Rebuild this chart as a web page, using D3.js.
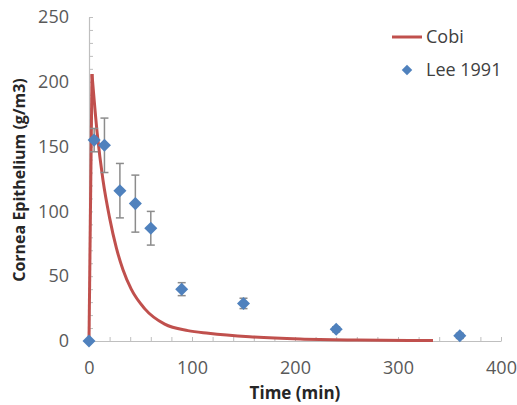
<!DOCTYPE html>
<html>
<head>
<meta charset="utf-8">
<script src="https://cdn.jsdelivr.net/npm/d3@7"></script>
<style>
  body { margin: 0; background: #fff; }
  svg text { font-family: "Open Sans", sans-serif; }
</style>
</head>
<body>
<svg id="chart" width="517" height="405"></svg>
<script>
// Lee 1991 measurements
const leeTime = [0, 5, 15, 30, 45, 60, 90, 150, 240, 360];
const leeConc = [0, 155, 151, 116, 106, 87, 40, 29, 9, 4];
const leeErr = [0, 9, 21, 21, 22, 13, 5, 4, 2, 2];

// Cobi simulation curve
const cobiTime = [0, 2.9, 8, 13.6, 20, 26.5, 33, 41, 54, 73.5, 96, 116, 156, 205, 260, 334];
const cobiConc = [0, 206, 160, 124, 95, 72, 55, 40, 25, 13, 8, 6, 3.3, 1.5, 0.7, 0.3];

const xTicks = [0, 100, 200, 300, 400];
const yTicks = [0, 50, 100, 150, 200, 250];

const svg = d3.select("#chart");
const x = d3.scaleLinear().domain([0, 400]).range([89, 501]);
const y = d3.scaleLinear().domain([0, 250]).range([341, 17]);

const axisColor = "#bfbfbf", labelColor = "#595959";

// minor ticks
svg.append("g")
  .attr("transform", "translate(0," + y(0) + ")")
  .call(d3.axisBottom(x).tickValues(d3.range(0, 401, 20)).tickSize(-4).tickFormat(""))
  .call(g => g.select(".domain").remove())
  .selectAll("line").attr("stroke", axisColor);
svg.append("g")
  .attr("transform", "translate(" + x(0) + ",0)")
  .call(d3.axisLeft(y).tickValues(d3.range(0, 251, 10)).tickSize(-4).tickFormat(""))
  .call(g => g.select(".domain").remove())
  .selectAll("line").attr("stroke", axisColor);

// main axes
let xa = svg.append("g")
  .attr("transform", "translate(0," + y(0) + ")")
  .call(d3.axisBottom(x).tickValues(xTicks).tickSize(0).tickPadding(20));
xa.select(".domain").attr("stroke", axisColor).attr("stroke-width", 1.2);
xa.selectAll("text").attr("font-size", 18).attr("fill", labelColor);

let ya = svg.append("g")
  .attr("transform", "translate(" + x(0) + ",0)")
  .call(d3.axisLeft(y).tickValues(yTicks).tickSize(0).tickPadding(20));
ya.select(".domain").attr("stroke", axisColor).attr("stroke-width", 1.2);
ya.selectAll("text").attr("font-size", 18).attr("fill", labelColor);

// axis titles
svg.append("text")
  .attr("x", 295).attr("y", 399)
  .attr("text-anchor", "middle")
  .attr("font-size", 17).attr("font-weight", "bold").attr("fill", "#262626")
  .text("Time (min)");
svg.append("text")
  .attr("transform", "translate(25,180) rotate(-90)")
  .attr("text-anchor", "middle")
  .attr("font-size", 16).attr("font-weight", "bold").attr("fill", "#262626")
  .text("Cornea Epithelium (g/m3)");

// Cobi line: straight rise to the peak, smooth decay after it
const cobi = cobiTime.map((t, i) => [t, cobiConc[i]]);
const lineLin = d3.line().x(d => x(d[0])).y(d => y(d[1]));
const lineSmooth = d3.line().x(d => x(d[0])).y(d => y(d[1])).curve(d3.curveMonotoneX);
svg.append("path")
  .attr("fill", "none").attr("stroke", "#C0504D").attr("stroke-width", 3)
  .attr("d", lineLin(cobi.slice(0, 2)));
svg.append("path")
  .attr("fill", "none").attr("stroke", "#C0504D").attr("stroke-width", 3)
  .attr("stroke-linejoin", "round")
  .attr("d", lineSmooth(cobi.slice(1)));

// error bars
const lee = leeTime.map((t, i) => ({t: t, c: leeConc[i], e: leeErr[i]}));
const eb = svg.append("g").attr("stroke", "#8c8c8c").attr("stroke-width", 1.5);
lee.filter(d => d.e > 0).forEach(d => {
  eb.append("line").attr("x1", x(d.t)).attr("x2", x(d.t)).attr("y1", y(d.c - d.e)).attr("y2", y(d.c + d.e));
  eb.append("line").attr("x1", x(d.t) - 4).attr("x2", x(d.t) + 4).attr("y1", y(d.c - d.e)).attr("y2", y(d.c - d.e));
  eb.append("line").attr("x1", x(d.t) - 4).attr("x2", x(d.t) + 4).attr("y1", y(d.c + d.e)).attr("y2", y(d.c + d.e));
});

// markers
const diamond = d3.symbol(d3.symbolSquare, 85);
svg.append("g").selectAll("path")
  .data(lee)
  .enter()
  .append("path")
  .attr("d", diamond)
  .attr("transform", d => "translate(" + x(d.t) + "," + y(d.c) + ") rotate(45)")
  .attr("fill", "#4F81BD");

// legend
svg.append("line")
  .attr("x1", 392).attr("x2", 422).attr("y1", 37).attr("y2", 37)
  .attr("stroke", "#C0504D").attr("stroke-width", 3);
svg.append("text")
  .attr("x", 426).attr("y", 37).attr("dy", "0.35em")
  .attr("font-size", 18).attr("fill", "#404040")
  .text("Cobi");
svg.append("path")
  .attr("d", d3.symbol(d3.symbolSquare, 55))
  .attr("transform", "translate(407,70) rotate(45)")
  .attr("fill", "#4F81BD");
svg.append("text")
  .attr("x", 426).attr("y", 70).attr("dy", "0.35em")
  .attr("font-size", 18).attr("fill", "#404040")
  .text("Lee 1991");
</script>
</body>
</html>
